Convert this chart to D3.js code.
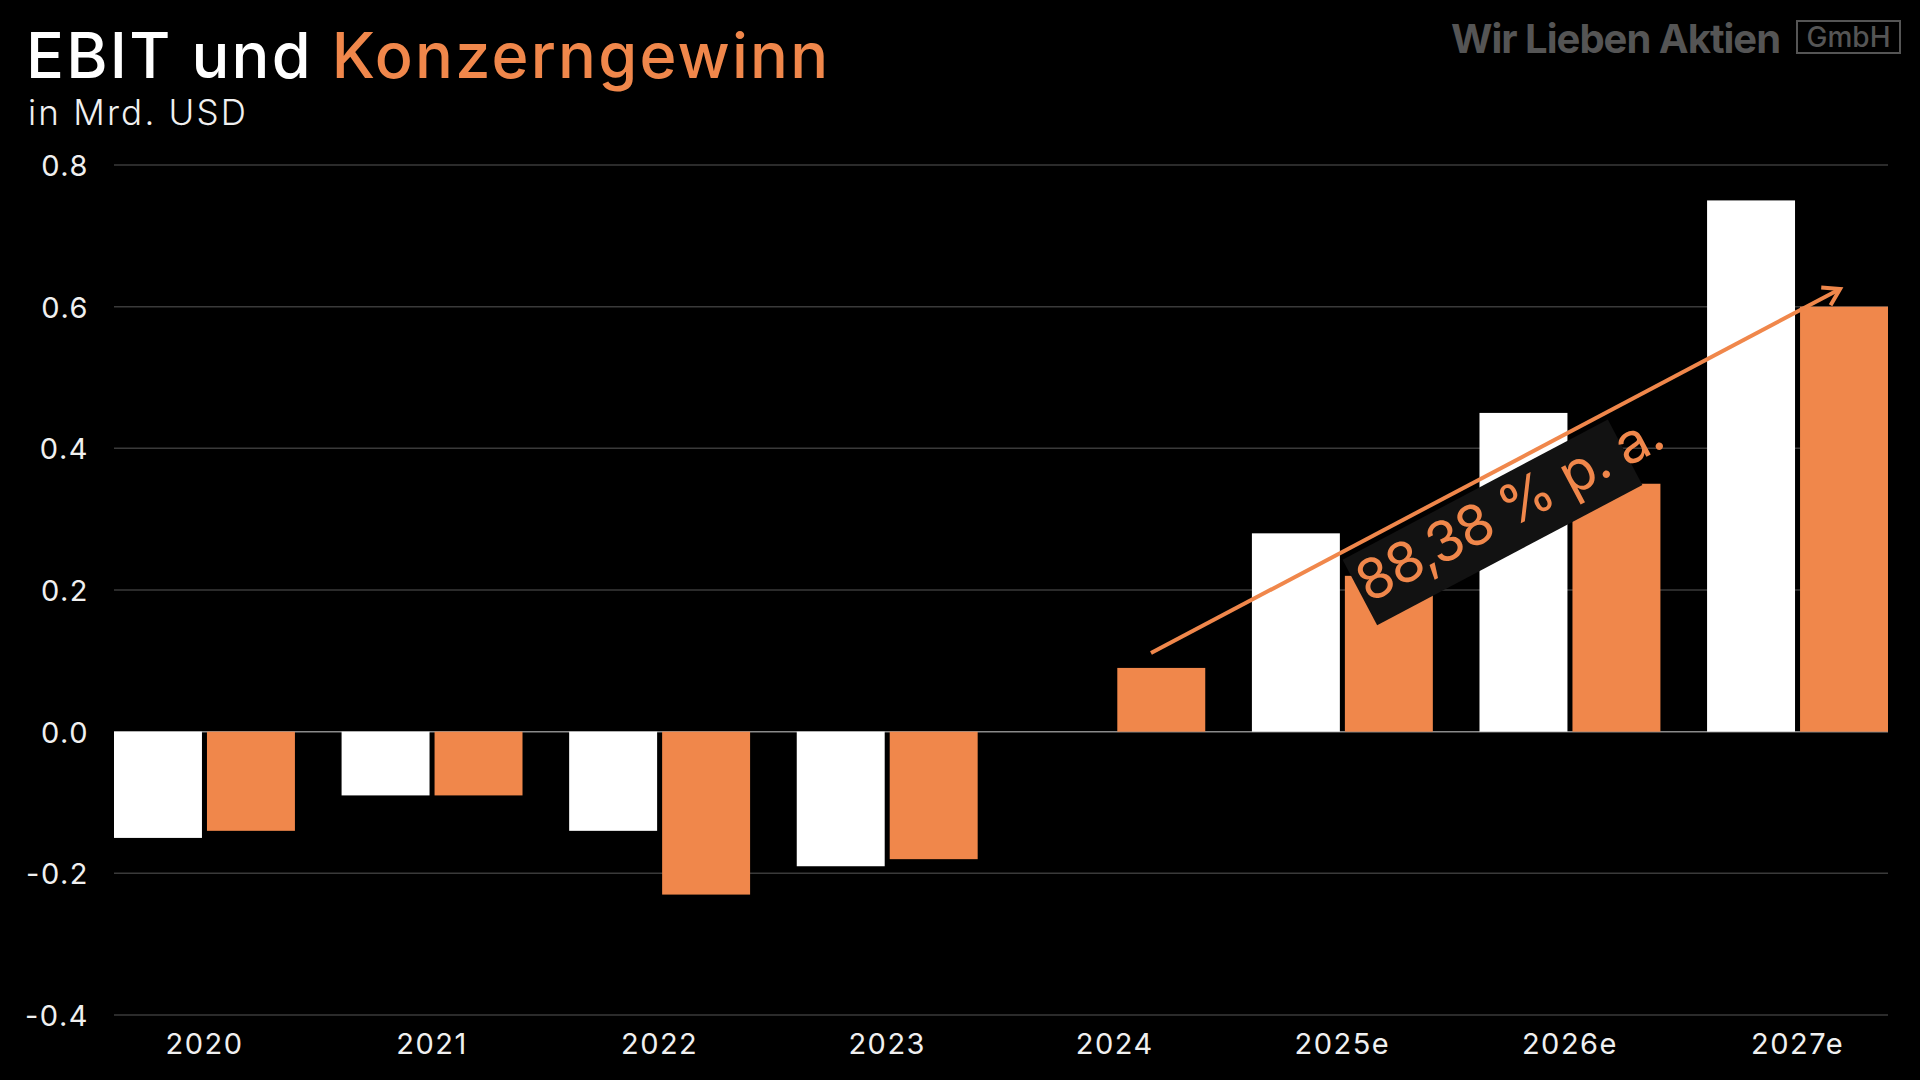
<!DOCTYPE html>
<html><head><meta charset="utf-8">
<script src="https://cdn.jsdelivr.net/npm/d3@7"></script>
<style>
html,body{margin:0;padding:0;background:#000;}
svg{display:block;}
</style></head>
<body>
<svg id="chart" width="1920" height="1080"></svg>
<script>
const years = ["2020","2021","2022","2023","2024","2025e","2026e","2027e"];
const ebit = [-0.15,-0.09,-0.14,-0.19,0,0.28,0.45,0.75];
const konzerngewinn = [-0.14,-0.09,-0.23,-0.18,0.09,0.22,0.35,0.60];
const yTicks = [-0.4,-0.2,0.0,0.2,0.4,0.6,0.8];
const seriesKeys = ["ebit","konzerngewinn"];
const growthLabel = "88,38 % p. a.";
// trend arrow anchor: [category, fraction of band, value]
const trendFrom = ["2024", 0.70, 0.111];
const trendTo = ["2027e", 0.735, 0.625];

const ORANGE = "#F0874B";
const FONT = "Inter, 'Open Sans', sans-serif";
const svg = d3.select("#chart");
svg.append("rect").attr("width",1920).attr("height",1080).attr("fill","#000");

const x0 = d3.scaleBand().domain(years).range([114,1888]).paddingInner(0.205).paddingOuter(0);
const x1 = d3.scaleBand().domain(seriesKeys).range([0,x0.bandwidth()]).paddingInner(0.054);
const y = d3.scaleLinear().domain([-0.4,0.8]).range([1015,165]);

// grid
const grid = svg.append("g");
grid.selectAll("line").data(yTicks).join("line")
  .attr("x1",114).attr("x2",1888)
  .attr("y1",d=>y(d)).attr("y2",d=>y(d))
  .attr("stroke",d=>d===0?"#8a8a8a":"#3a3a3a").attr("stroke-width",1.5);

// y axis labels
const yAxis = d3.axisLeft(y).tickValues(yTicks).tickFormat(d3.format(".1f")).tickSize(0).tickPadding(0);
const ya = svg.append("g").attr("transform","translate(89,0)").call(yAxis);
ya.select(".domain").remove();
ya.selectAll("text").attr("fill","#f0f0f0").attr("font-family",FONT).attr("font-size",29).attr("font-weight",400)
  .attr("letter-spacing",1.5).attr("dy","0.36em").text(d=>d3.format(".1f")(d).replace("−","-"));

// x axis labels
const xAxis = d3.axisBottom(x0).tickSize(0).tickPadding(0);
const xa = svg.append("g").attr("transform","translate(0,1044)").call(xAxis);
xa.select(".domain").remove();
xa.selectAll("text").attr("fill","#f0f0f0").attr("font-family",FONT).attr("font-size",29)
  .attr("letter-spacing",1.5).attr("dy","0.36em");

// bars
const rows = years.map((yr,i)=>({yr, vals:[{k:"ebit",v:ebit[i]},{k:"konzerngewinn",v:konzerngewinn[i]}]}));
const g = svg.append("g");
g.selectAll("g").data(rows).join("g")
  .attr("transform",d=>`translate(${x0(d.yr)},0)`)
  .selectAll("rect").data(d=>d.vals.filter(e=>e.v!==0)).join("rect")
  .attr("x",d=>x1(d.k)).attr("width",x1.bandwidth())
  .attr("y",d=>y(Math.max(0,d.v))).attr("height",d=>Math.abs(y(d.v)-y(0)))
  .attr("fill",d=>d.k==="ebit"?"#ffffff":ORANGE);

// trend arrow & label
const ax1 = x0(trendFrom[0]) + trendFrom[1]*x0.bandwidth(), ay1 = y(trendFrom[2]);
const ax2 = x0(trendTo[0]) + trendTo[1]*x0.bandwidth(), ay2 = y(trendTo[2]);
const ang = Math.atan2(ay2-ay1, ax2-ax1)*180/Math.PI;
const len = Math.hypot(ax2-ax1, ay2-ay1);

const lab = svg.append("g").attr("transform",`translate(${ax1},${ay1}) rotate(${ang})`);
lab.append("rect").attr("x",213).attr("y",7).attr("width",300).attr("height",74).attr("fill","#121212");
lab.append("text").attr("x",216).attr("y",58).attr("fill",ORANGE).attr("font-family",FONT)
  .attr("font-size",56).attr("font-weight",400).attr("textLength",338).attr("lengthAdjust","spacing").text(growthLabel);

const arr = svg.append("g").attr("transform",`translate(${ax1},${ay1}) rotate(${ang})`);
arr.append("line").attr("x1",0).attr("y1",0).attr("x2",len).attr("y2",0)
  .attr("stroke",ORANGE).attr("stroke-width",4).attr("stroke-linecap","butt");
arr.append("path").attr("d",`M${len-16},-10 L${len},0 L${len-16},10`)
  .attr("fill","none").attr("stroke",ORANGE).attr("stroke-width",4).attr("stroke-linejoin","miter");

// title
const t = svg.append("text").attr("x",26).attr("y",78).attr("font-family",FONT).attr("font-size",63).attr("font-weight",500)
  .attr("letter-spacing",2.2);
t.append("tspan").attr("fill","#ffffff").text("EBIT und ");
t.append("tspan").attr("fill",ORANGE).text("Konzerngewinn");
svg.append("text").attr("x",28).attr("y",125).attr("font-family",FONT).attr("font-size",35).attr("font-weight",300)
  .attr("letter-spacing",2.2).attr("fill","#f0f0f0").text("in Mrd. USD");

// logo
svg.append("text").attr("x",1451).attr("y",53).attr("font-family",FONT).attr("font-size",40).attr("font-weight",700)
  .attr("fill","#555555").attr("letter-spacing",-1).text("Wir Lieben Aktien");
svg.append("rect").attr("x",1797).attr("y",21).attr("width",103).attr("height",32)
  .attr("fill","none").attr("stroke","#555555").attr("stroke-width",2);
svg.append("text").attr("x",1848.5).attr("y",47).attr("text-anchor","middle").attr("font-family",FONT)
  .attr("font-size",28).attr("font-weight",500).attr("fill","#555555").text("GmbH");
</script>
</body></html>
